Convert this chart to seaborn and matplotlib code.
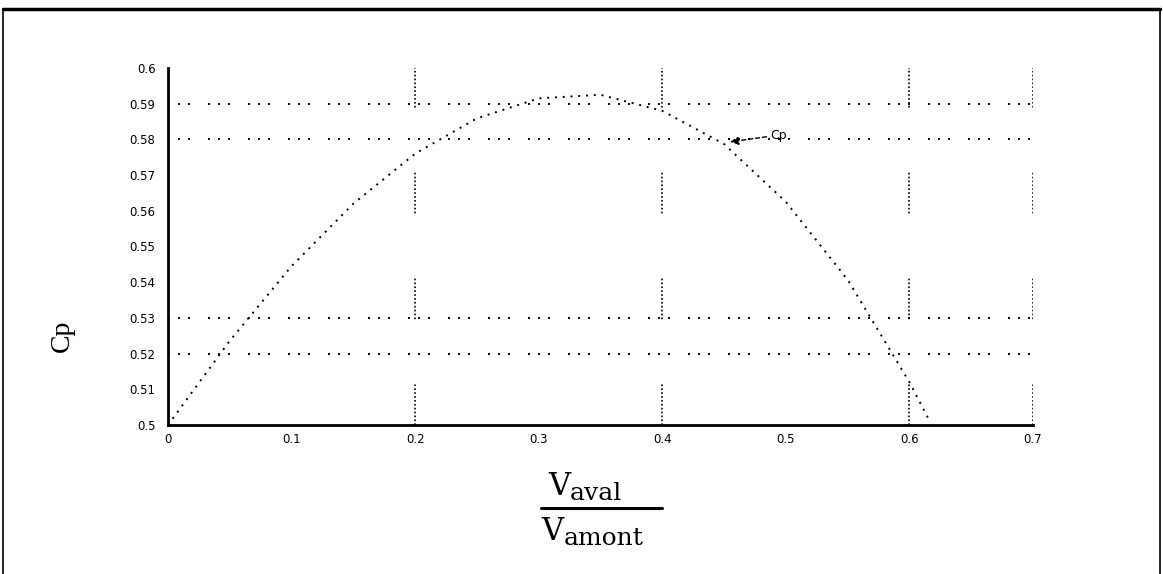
import matplotlib
matplotlib.use("Agg")
import matplotlib.pyplot as plt
import seaborn as sns
import pandas as pd
from matplotlib.lines import Line2D

# values
ratio = [0, 0.05, 0.1, 0.15, 0.2, 0.25, 0.3, 0.35, 0.4, 0.45, 0.5, 0.55, 0.6, 0.615]
cp = [0.500, 0.5236, 0.5445, 0.5620, 0.5760, 0.5859, 0.5915, 0.5925, 0.5880,
      0.5787, 0.5625, 0.5407, 0.5120, 0.5020]

x_ticks = [0, 0.1, 0.2, 0.3, 0.4, 0.5, 0.6, 0.7]
x_tick_labels = ["0", "0.1", "0.2", "0.3", "0.4", "0.5", "0.6", "0.7"]
y_ticks = [0.5, 0.51, 0.52, 0.53, 0.54, 0.55, 0.56, 0.57, 0.58, 0.59, 0.6]
y_tick_labels = ["0.5", "0.51", "0.52", "0.53", "0.54", "0.55", "0.56",
                 "0.57", "0.58", "0.59", "0.6"]

# only these grid lines survive in the scan
x_grid = [0.2, 0.4, 0.6, 0.7]
y_grid = [0.52, 0.53, 0.58, 0.59]

label_point = (0.455, 0.5793)
label_text_pos = (0.487, 0.5812)

W, H = 1163, 574

sns.set_theme(style="white")
plt.rcParams["font.family"] = ["DejaVu Sans"]
plt.rcParams["text.color"] = "black"
plt.rcParams["lines.scale_dashes"] = False

df = pd.DataFrame({"ratio": ratio, "cp": cp})

fig = plt.figure(figsize=(W / 100, H / 100), dpi=100)
ax = fig.add_axes([168 / W, 1 - 425 / H, 865 / W, 357 / H])

# grid lines
h_dash = (0, (1.4, 5.8, 1.4, 5.8, 1.4, 13))
v_dash = (0, [1.2, 1.6] * 10 + [1.2, 47])
for g in y_grid:
    ax.axhline(g, color="black", lw=1.4, linestyle=h_dash, zorder=1)
for g in x_grid:
    ax.axvline(g, color="black", lw=1.2, linestyle=v_dash, zorder=1)

sns.lineplot(data=df, x="ratio", y="cp", ax=ax, color="black", lw=1.4,
             linestyle=(0, (1.4, 4.2)), zorder=3)

ax.annotate("Cp", xy=label_point, xytext=label_text_pos,
            fontsize=9, va="center", ha="left", color="black",
            arrowprops=dict(arrowstyle="-|>", color="black", lw=1.0,
                            linestyle=(0, (3, 2)), mutation_scale=12,
                            shrinkA=0, shrinkB=0))

ax.set_xlim(0, 0.7)
ax.set_ylim(0.5, 0.6)
ax.set_xticks(x_ticks)
ax.set_xticklabels(x_tick_labels)
ax.set_yticks(y_ticks)
ax.set_yticklabels(y_tick_labels)
ax.tick_params(axis="both", direction="in", length=5, width=1.5,
               labelsize=8.5, colors="black")
ax.tick_params(axis="y", pad=9)
ax.tick_params(axis="x", pad=6)

for side in ["top", "right"]:
    ax.spines[side].set_visible(False)
for side in ["left", "bottom"]:
    ax.spines[side].set_color("black")
    ax.spines[side].set_linewidth(2)

ax.set_ylabel("Cp", fontsize=20, family="Liberation Serif", color="black")
ax.yaxis.set_label_coords(-0.108, 0.25)
ax.set_xlabel("")

# x label drawn as a fraction V_aval / V_amont
serif = "DejaVu Serif"
fig.text(548 / W, 1 - 495 / H, "V", fontsize=22, family=serif,
         ha="left", va="baseline", color="black")
fig.text(570 / W, 1 - 500 / H, "aval", fontsize=18, family=serif,
         ha="left", va="baseline", color="black")
fig.text(541 / W, 1 - 540 / H, "V", fontsize=22, family=serif,
         ha="left", va="baseline", color="black")
fig.text(564 / W, 1 - 545 / H, "amont", fontsize=18, family=serif,
         ha="left", va="baseline", color="black")
fig.add_artist(Line2D([541 / W, 662 / W], [1 - 508 / H, 1 - 508 / H],
                      transform=fig.transFigure, color="black", lw=2.2))

# outer frame of the scanned page
fig.add_artist(Line2D([3 / W, 1160 / W], [1 - 9 / H, 1 - 9 / H],
                      transform=fig.transFigure, color="black", lw=2.5))
fig.add_artist(Line2D([3 / W, 3 / W], [0, 1 - 9 / H],
                      transform=fig.transFigure, color="black", lw=1.2))
fig.add_artist(Line2D([1160 / W, 1160 / W], [0, 1 - 9 / H],
                      transform=fig.transFigure, color="black", lw=1.2))

fig.savefig("out.png", dpi=100)
